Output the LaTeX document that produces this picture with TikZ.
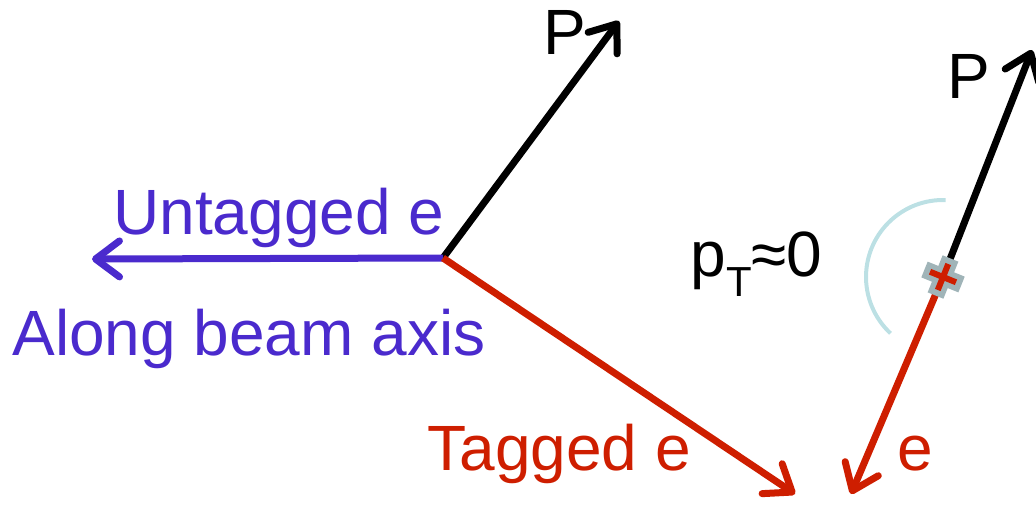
\documentclass[tikz,border=0pt]{standalone}
\usepackage{fontspec}
\setmainfont{Liberation Sans}
\usetikzlibrary{arrows.meta, positioning, calc}

\definecolor{untagblue}{RGB}{74,42,205}
\definecolor{tagred}{RGB}{206,30,0}
\definecolor{crossgrey}{RGB}{160,180,184}
\definecolor{arcblue}{RGB}{188,224,228}

\begin{document}
\begin{tikzpicture}[
		x=0.5pt, y=0.5pt,
		vec/.style={line width=3.5pt, -{Straight Barb[length=12pt,width=18pt,round]}},
		lbl/.style={anchor=base west, inner sep=0pt, font=\fontsize{32}{38}\selectfont},
	]
	\useasboundingbox (0,0) rectangle (1036,-504);

	% -- left: tagged event --

	\coordinate (vtx) at (443,-258);
	\coordinate (ptip) at (619,-21);
	\coordinate (utip) at (92,-259);
	\coordinate (ttip) at (795,-494);

	\draw[vec] (vtx) -- (ptip);
	\draw[vec, untagblue] (vtx) -- (utip);
	\draw[vec, tagred] (vtx) -- (ttip);

	\node[lbl] (pleft) at (543,-54) {P};
	\node[lbl, untagblue] (untag) at (113,-234) {Untagged e};
	\node[lbl, untagblue] (beam) at (12,-355) {Along beam axis};
	\node[lbl, tagred] (tag) at (427,-470) {Tagged e};

	% -- right: pT ~ 0 --

	\coordinate (xc) at (943,-277);
	\coordinate (p2tip) at (1032,-50);
	\coordinate (etip) at (851,-494);

	\draw[arcblue, line width=2pt] (xc) ++(88:77) arc[start angle=88, end angle=227, radius=77];

	\draw[vec] (xc) -- (p2tip);
	\draw[vec, tagred] (xc) -- (etip);

	\begin{scope}[shift={(xc)}, rotate=-22]
		\fill[crossgrey] (-20,-8.5) rectangle (20,8.5) (-8.5,-20) rectangle (8.5,20);
		\fill[tagred] (-14,-3) rectangle (14,3) (-3,-14) rectangle (3,14);
	\end{scope}

	\node[lbl] (pright) at (947,-98) {P};
	\node[lbl, tagred] (eright) at (897,-470) {e};
	\node[lbl] (pt) at (690,-276)
	{p\raisebox{-10pt}{\fontsize{21}{24}\selectfont T}≈0};
\end{tikzpicture}
\end{document}
